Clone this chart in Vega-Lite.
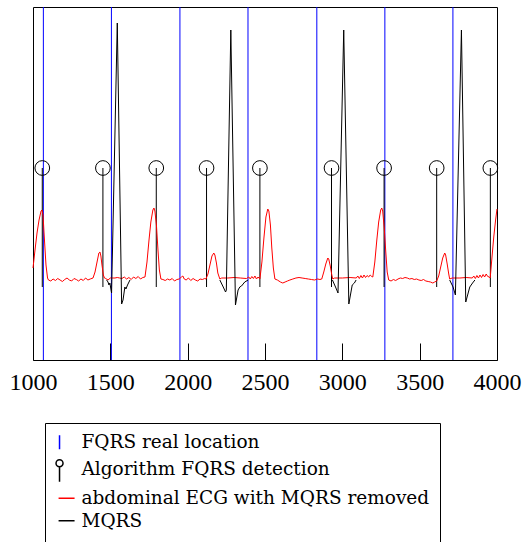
{
  "$schema": "https://vega.github.io/schema/vega-lite/v6.json",
  "width": 464,
  "height": 353,
  "autosize": {"type": "none"},
  "padding": {"left": 33, "top": 7, "right": 29, "bottom": 182},
  "background": "white",
  "config": {
    "view": {"stroke": "black", "strokeWidth": 1},
    "legend": {
      "orient": "none",
      "legendX": 12,
      "legendY": 416,
      "direction": "vertical",
      "strokeColor": "black",
      "fillColor": "white",
      "padding": 10,
      "symbolSize": 256,
      "labelFont": "DejaVu Serif",
      "labelFontSize": 18.5,
      "labelColor": "black",
      "labelOffset": 8,
      "labelLimit": 500,
      "rowPadding": 3.5
    }
  },
  "datasets": {
    "fqrs": [{"x": 1067}, {"x": 1507}, {"x": 1950}, {"x": 2390}, {"x": 2835}, {"x": 3275}, {"x": 3715}],
    "det": [{"x": 1060, "y": 2.24}, {"x": 1452, "y": 2.24}, {"x": 1797, "y": 2.24}, {"x": 2122, "y": 2.24}, {"x": 2467, "y": 2.24}, {"x": 2930, "y": 2.24}, {"x": 3270, "y": 2.24}, {"x": 3610, "y": 2.24}, {"x": 3957, "y": 2.24}],
    "ecg": [
      {"x":1000,"y":0.24},{"x":1013,"y":0.60},{"x":1026,"y":0.94},{"x":1039,"y":1.20},{"x":1052,"y":1.38},{"x":1058,"y":1.40},{"x":1065,"y":1.30},{"x":1071,"y":0.96},{"x":1078,"y":0.60},{"x":1084,"y":0.30},{"x":1094,"y":0.04},
      {"x":1100,"y":0.00},{"x":1115,"y":-0.02},{"x":1130,"y":0.02},{"x":1145,"y":-0.01},{"x":1160,"y":0.03},{"x":1175,"y":0.00},{"x":1190,"y":-0.03},{"x":1205,"y":0.01},{"x":1220,"y":0.04},{"x":1235,"y":0.00},{"x":1250,"y":-0.02},{"x":1265,"y":0.03},{"x":1280,"y":0.01},{"x":1295,"y":-0.02},{"x":1310,"y":0.02},{"x":1325,"y":-0.01},{"x":1340,"y":0.04},{"x":1355,"y":0.00},{"x":1370,"y":0.02},
      {"x":1388,"y":0.04},{"x":1401,"y":0.16},{"x":1414,"y":0.36},{"x":1426,"y":0.54},{"x":1433,"y":0.56},{"x":1439,"y":0.48},{"x":1446,"y":0.30},{"x":1455,"y":0.10},{"x":1462,"y":0.04},
      {"x":1470,"y":0.03},{"x":1485,"y":0.00},{"x":1500,"y":0.04},{"x":1515,"y":0.04},{"x":1530,"y":0.04},{"x":1545,"y":0.05},{"x":1560,"y":0.04},{"x":1575,"y":0.03},{"x":1590,"y":0.06},{"x":1605,"y":0.02},{"x":1620,"y":0.05},{"x":1635,"y":0.01},{"x":1650,"y":0.06},{"x":1665,"y":0.03},{"x":1680,"y":0.07},{"x":1695,"y":0.02},{"x":1710,"y":0.05},
      {"x":1724,"y":0.06},{"x":1737,"y":0.36},{"x":1750,"y":0.80},{"x":1762,"y":1.16},{"x":1775,"y":1.40},{"x":1782,"y":1.44},{"x":1788,"y":1.38},{"x":1798,"y":1.10},{"x":1808,"y":0.60},{"x":1817,"y":0.20},{"x":1827,"y":0.02},
      {"x":1840,"y":0.01},{"x":1855,"y":-0.01},{"x":1870,"y":0.02},{"x":1885,"y":0.00},{"x":1900,"y":0.03},{"x":1915,"y":-0.02},{"x":1930,"y":0.01},{"x":1945,"y":0.02},{"x":1960,"y":0.06},{"x":1969,"y":0.08},{"x":1978,"y":0.02},{"x":1990,"y":0.00},{"x":2005,"y":0.04},{"x":2020,"y":-0.01},{"x":2035,"y":0.03},{"x":2050,"y":0.00},{"x":2065,"y":-0.02},{"x":2080,"y":0.02},{"x":2095,"y":0.01},{"x":2110,"y":0.03},
      {"x":2118,"y":0.02},{"x":2131,"y":0.12},{"x":2144,"y":0.30},{"x":2157,"y":0.48},{"x":2169,"y":0.54},{"x":2176,"y":0.50},{"x":2186,"y":0.34},{"x":2195,"y":0.14},{"x":2208,"y":0.02},
      {"x":2220,"y":0.04},{"x":2260,"y":0.04},{"x":2300,"y":0.05},{"x":2340,"y":0.04},{"x":2380,"y":0.03},{"x":2395,"y":0.06},{"x":2405,"y":0.02},{"x":2415,"y":0.07},{"x":2425,"y":0.03},{"x":2435,"y":0.08},{"x":2445,"y":0.02},{"x":2455,"y":0.06},
      {"x":2467,"y":0.02},{"x":2480,"y":0.36},{"x":2493,"y":0.84},{"x":2506,"y":1.26},{"x":2518,"y":1.42},{"x":2525,"y":1.38},{"x":2535,"y":1.10},{"x":2544,"y":0.64},{"x":2554,"y":0.24},{"x":2564,"y":0.02},
      {"x":2580,"y":0.00},{"x":2600,"y":-0.04},{"x":2615,"y":-0.06},{"x":2630,"y":-0.04},{"x":2645,"y":-0.02},{"x":2661,"y":0.00},{"x":2680,"y":0.02},{"x":2700,"y":0.04},{"x":2720,"y":0.05},{"x":2740,"y":0.04},{"x":2760,"y":0.03},{"x":2780,"y":0.02},{"x":2800,"y":0.01},{"x":2820,"y":0.00},{"x":2840,"y":0.02},{"x":2855,"y":0.01},
      {"x":2867,"y":0.02},{"x":2880,"y":0.16},{"x":2893,"y":0.32},{"x":2906,"y":0.44},{"x":2912,"y":0.42},{"x":2922,"y":0.28},{"x":2932,"y":0.10},{"x":2938,"y":0.02},
      {"x":2950,"y":0.04},{"x":3000,"y":0.04},{"x":3050,"y":0.05},{"x":3090,"y":0.04},{"x":3100,"y":0.08},{"x":3110,"y":0.03},{"x":3120,"y":0.09},{"x":3130,"y":0.04},{"x":3140,"y":0.10},{"x":3150,"y":0.05},{"x":3160,"y":0.09},{"x":3170,"y":0.06},{"x":3180,"y":0.10},{"x":3190,"y":0.07},
      {"x":3197,"y":0.06},{"x":3210,"y":0.36},{"x":3223,"y":0.80},{"x":3235,"y":1.16},{"x":3248,"y":1.40},{"x":3255,"y":1.44},{"x":3261,"y":1.38},{"x":3271,"y":1.04},{"x":3281,"y":0.56},{"x":3290,"y":0.16},{"x":3300,"y":0.00},
      {"x":3315,"y":-0.02},{"x":3330,"y":0.01},{"x":3345,"y":-0.01},{"x":3360,"y":0.02},{"x":3375,"y":0.04},{"x":3390,"y":0.03},{"x":3405,"y":0.05},{"x":3420,"y":0.04},{"x":3435,"y":0.02},{"x":3450,"y":0.03},{"x":3465,"y":0.01},{"x":3480,"y":0.02},{"x":3495,"y":0.00},{"x":3510,"y":-0.01},{"x":3525,"y":0.01},{"x":3540,"y":-0.02},{"x":3555,"y":-0.03},{"x":3570,"y":-0.04},{"x":3585,"y":-0.06},{"x":3597,"y":-0.04},
      {"x":3610,"y":-0.02},{"x":3623,"y":0.08},{"x":3636,"y":0.26},{"x":3649,"y":0.44},{"x":3662,"y":0.54},{"x":3668,"y":0.50},{"x":3678,"y":0.32},{"x":3688,"y":0.12},{"x":3694,"y":0.02},
      {"x":3710,"y":0.04},{"x":3760,"y":0.04},{"x":3800,"y":0.05},{"x":3840,"y":0.04},{"x":3850,"y":0.08},{"x":3860,"y":0.03},{"x":3870,"y":0.09},{"x":3880,"y":0.04},{"x":3890,"y":0.10},{"x":3900,"y":0.05},{"x":3910,"y":0.11},{"x":3920,"y":0.06},{"x":3930,"y":0.12},{"x":3940,"y":0.07},{"x":3950,"y":0.06},
      {"x":3956,"y":0.04},{"x":3966,"y":0.40},{"x":3979,"y":0.86},{"x":3991,"y":1.20},{"x":4000,"y":1.42}
    ],
    "mqrs": [
      {"seg":1,"x":1476,"y":0},{"seg":1,"x":1485,"y":-0.04},{"seg":1,"x":1491,"y":-0.10},{"seg":1,"x":1497,"y":-0.06},{"seg":1,"x":1508,"y":-0.26},{"seg":1,"x":1545,"y":5.14},{"seg":1,"x":1573,"y":-0.48},{"seg":1,"x":1582,"y":-0.40},{"seg":1,"x":1594,"y":-0.14},{"seg":1,"x":1601,"y":-0.18},{"seg":1,"x":1611,"y":-0.10},{"seg":1,"x":1627,"y":0},
      {"seg":2,"x":2208,"y":0},{"seg":2,"x":2230,"y":-0.14},{"seg":2,"x":2245,"y":-0.24},{"seg":2,"x":2250,"y":-0.20},{"seg":2,"x":2279,"y":5.0},{"seg":2,"x":2309,"y":-0.50},{"seg":2,"x":2326,"y":-0.20},{"seg":2,"x":2337,"y":-0.14},{"seg":2,"x":2348,"y":-0.12},{"seg":2,"x":2369,"y":-0.04},{"seg":2,"x":2391,"y":0},
      {"seg":3,"x":2936,"y":0},{"seg":3,"x":2956,"y":-0.14},{"seg":3,"x":2972,"y":-0.26},{"seg":3,"x":3009,"y":5.0},{"seg":3,"x":3042,"y":-0.48},{"seg":3,"x":3064,"y":-0.10},{"seg":3,"x":3078,"y":-0.06},{"seg":3,"x":3089,"y":0},
      {"seg":4,"x":3694,"y":0},{"seg":4,"x":3716,"y":-0.14},{"seg":4,"x":3731,"y":-0.30},{"seg":4,"x":3770,"y":5.0},{"seg":4,"x":3798,"y":-0.44},{"seg":4,"x":3824,"y":-0.14},{"seg":4,"x":3842,"y":-0.06},{"seg":4,"x":3857,"y":0}
    ]
  },
  "layer": [
    {
      "data": {"name": "fqrs"},
      "mark": {"type": "rule", "strokeWidth": 1},
      "encoding": {
        "x": {
          "field": "x", "type": "quantitative",
          "scale": {"domain": [1000, 4000], "nice": false, "zero": false},
          "axis": {
            "orient": "bottom", "values": [1000, 1500, 2000, 2500, 3000, 3500, 4000], "format": "d",
            "domain": false, "grid": false, "title": null,
            "tickSize": -17, "tickColor": "black", "tickWidth": 1,
            "labelFont": "Liberation Serif", "labelFontSize": 24, "labelColor": "black",
            "labelPadding": 27, "labelFlush": false, "labelOverlap": false, "labelBound": false
          }
        },
        "color": {
          "datum": "FQRS real location",
          "type": "nominal",
          "scale": {
            "domain": ["FQRS real location", "Algorithm FQRS detection", "abdominal ECG with MQRS removed", "MQRS"],
            "range": ["#0000ff", "#000000", "#ff0000", "#000000"]
          },
          "legend": {
            "title": " ",
            "titleOrient": "bottom",
            "titleFontSize": 12,
            "titlePadding": 0,
            "labelFont": "DejaVu Serif",
            "encode": {
              "symbols": {
                "update": {
                  "shape": {"signal": "datum.value === 'FQRS real location' ? 'M-0.59,-0.875V0.875' : datum.value === 'Algorithm FQRS detection' ? 'M-0.59,-0.625V1.25M-0.1525,-1.0625A0.4375,0.4375 0 1 1 -1.0275,-1.0625A0.4375,0.4375 0 1 1 -0.1525,-1.0625' : 'M-0.71,0H1.29'"},
                  "stroke": {"scale": "color", "field": "value"},
                  "fill": {"value": "transparent"},
                  "strokeWidth": {"value": 1.5},
                  "opacity": {"value": 1}
                }
              },
              "labels": {
                "update": {
                  "dy": {"signal": "datum.value === 'Algorithm FQRS detection' ? -2.5 : 0"}
                }
              }
            }
          }
        }
      }
    },
    {
      "data": {"name": "det"},
      "mark": {"type": "rule", "strokeWidth": 1},
      "encoding": {
        "x": {"field": "x", "type": "quantitative"},
        "y": {"field": "y", "type": "quantitative", "scale": {"domain": [-1.6, 5.46], "nice": false, "zero": false}, "axis": null},
        "y2": {"datum": -0.14},
        "color": {"datum": "Algorithm FQRS detection", "type": "nominal"}
      }
    },
    {
      "data": {"name": "det"},
      "mark": {"type": "point", "shape": "circle", "filled": false, "size": 216, "strokeWidth": 1, "opacity": 1},
      "encoding": {
        "x": {"field": "x", "type": "quantitative"},
        "y": {"field": "y", "type": "quantitative"},
        "color": {"datum": "Algorithm FQRS detection", "type": "nominal"}
      }
    },
    {
      "data": {"name": "ecg"},
      "mark": {"type": "line", "strokeWidth": 1},
      "encoding": {
        "x": {"field": "x", "type": "quantitative"},
        "y": {"field": "y", "type": "quantitative"},
        "color": {"datum": "abdominal ECG with MQRS removed", "type": "nominal"}
      }
    },
    {
      "data": {"name": "mqrs"},
      "mark": {"type": "line", "strokeWidth": 1},
      "encoding": {
        "x": {"field": "x", "type": "quantitative"},
        "y": {"field": "y", "type": "quantitative"},
        "detail": {"field": "seg", "type": "nominal"},
        "color": {"datum": "MQRS", "type": "nominal"}
      }
    }
  ]
}
